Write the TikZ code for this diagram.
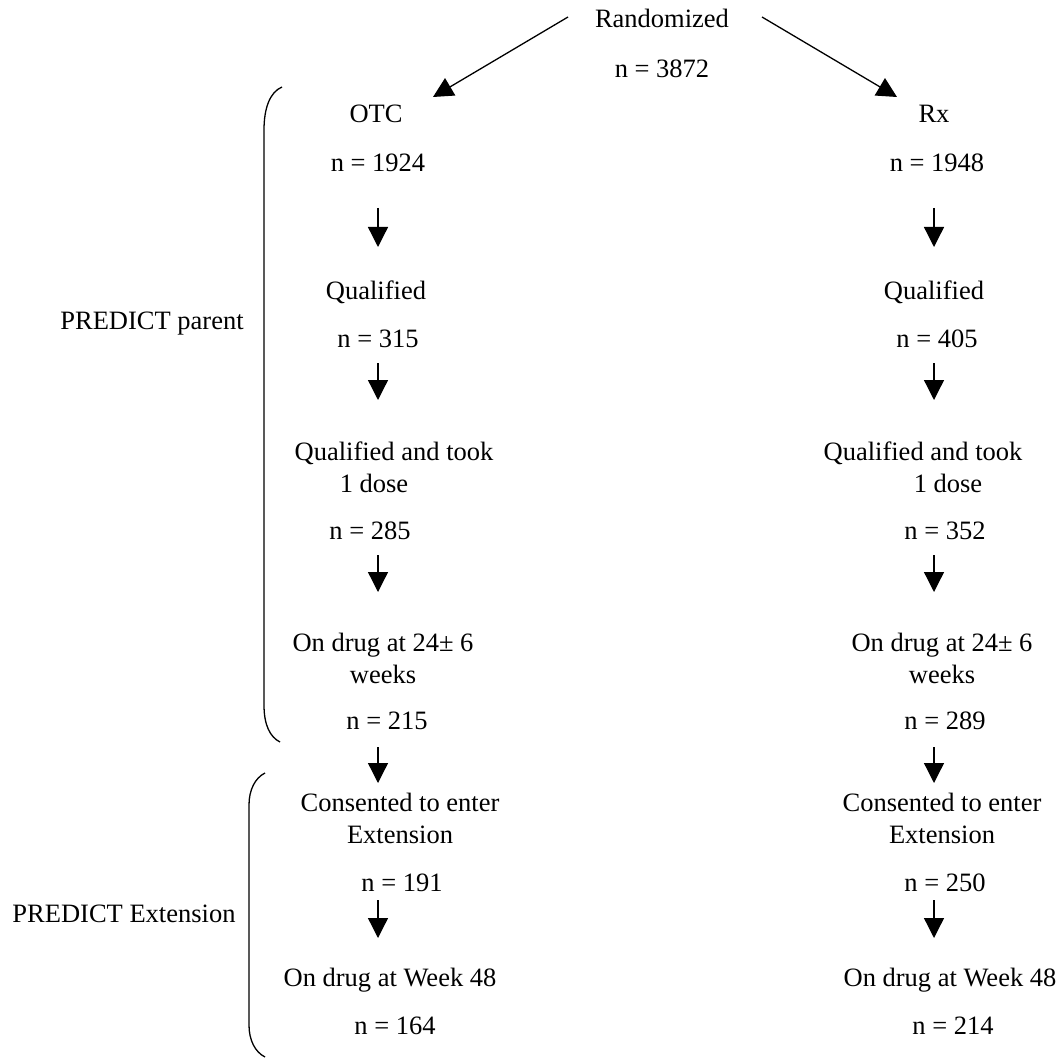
\documentclass[tikz,border=0pt]{standalone}
\usepackage{fontspec}
\setmainfont{Liberation Serif}
\usetikzlibrary{arrows.meta}
\begin{document}
\begin{tikzpicture}[x=1pt,y=-1pt,
  txt/.style={inner sep=0pt, anchor=base, font=\fontsize{26.5}{31.8}\selectfont},
  flow/.style={line width=1.3pt, -{Triangle[length=20pt,width=20pt]}},
  bracket/.style={line width=1.3pt}]
\useasboundingbox (0,0) rectangle (1063,1059);

% top
\node[txt] (rand)  at (662,28) {Randomized};
\node[txt] (randn) at (662,78) {n = 3872};

% OTC arm
\node[txt] (otc)   at (376,123) {OTC};
\node[txt] (otcn)  at (378,172) {n = 1924};
\node[txt] (qa)    at (376,300) {Qualified};
\node[txt] (qan)   at (378,348) {n = 315};
\node[txt] (qda1)  at (394,460) {Qualified and took};
\node[txt] (qda2)  at (374,492) {1 dose};
\node[txt] (qdan)  at (370,539) {n = 285};
\node[txt] (wka1)  at (383,651) {On drug at 24± 6};
\node[txt] (wka2)  at (383,683) {weeks};
\node[txt] (wkan)  at (387,729) {n = 215};
\node[txt] (cona1) at (400,811) {Consented to enter};
\node[txt] (cona2) at (400,843) {Extension};
\node[txt] (conan) at (402,891) {n = 191};
\node[txt] (w48a)  at (390,986) {On drug at Week 48};
\node[txt] (w48an) at (395,1034) {n = 164};

% Rx arm
\node[txt] (rx)    at (934,123) {Rx};
\node[txt] (rxn)   at (937,172) {n = 1948};
\node[txt] (qb)    at (934,300) {Qualified};
\node[txt] (qbn)   at (937,348) {n = 405};
\node[txt] (qdb1)  at (923,460) {Qualified and took};
\node[txt] (qdb2)  at (948,492) {1 dose};
\node[txt] (qdbn)  at (945,539) {n = 352};
\node[txt] (wkb1)  at (942,651) {On drug at 24± 6};
\node[txt] (wkb2)  at (942,683) {weeks};
\node[txt] (wkbn)  at (945,729) {n = 289};
\node[txt] (conb1) at (942,811) {Consented to enter};
\node[txt] (conb2) at (942,843) {Extension};
\node[txt] (conbn) at (945,891) {n = 250};
\node[txt] (w48b)  at (950,986) {On drug at Week 48};
\node[txt] (w48bn) at (953,1034) {n = 214};

% phase labels
\node[txt] (parent) at (152,330) {PREDICT parent};
\node[txt] (ext)    at (124,922) {PREDICT Extension};

% split arrows
\coordinate (sl0) at (568,17);  \coordinate (sl1) at (433,97);
\coordinate (sr0) at (762,17);  \coordinate (sr1) at (897,97);
\draw[flow] (sl0) -- (sl1);
\draw[flow] (sr0) -- (sr1);

% vertical arrows down both arms
\foreach \nm/\xx in {a/378, b/934} {
  \foreach \k/\ya/\yb in {1/208/247, 2/363/400, 3/555/592, 4/747/783, 5/900/938} {
    \coordinate (\nm\k s) at (\xx,\ya);
    \coordinate (\nm\k e) at (\xx,\yb);
    \draw[flow] (\nm\k s) -- (\nm\k e);
  }
}

% phase brackets
\draw[bracket] (282,87) .. controls (270,92) and (264,108) .. (264,130)
  -- (264,705) .. controls (264,725) and (270,737) .. (280,742);
\draw[bracket] (265,773) .. controls (255,778) and (249,790) .. (249,805)
  -- (249,1025) .. controls (249,1040) and (255,1052) .. (265,1057);
\end{tikzpicture}
\end{document}
